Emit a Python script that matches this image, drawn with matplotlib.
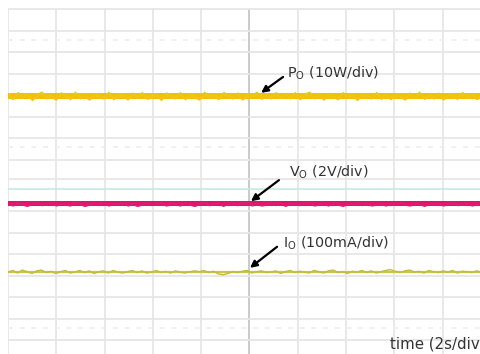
#!/usr/bin/env python3
# -*- coding: utf-8 -*-

import numpy as np
import matplotlib
matplotlib.use("Agg")
import matplotlib.pyplot as plt

plt.rcParams['font.family'] = 'DejaVu Sans'
plt.rcParams['mathtext.fontset'] = 'dejavusans'

# scope screen: 2 s/div horizontally, values in divisions from the bottom line
time_div = [0, 2, 4, 6, 8, 10, 12, 14, 16, 18]
grid_upper = [8.0, 7.5, 7.0, 6.5, 6.0, 5.5, 5.0, 4.5, 4.05]
grid_lower = [3.3, 2.8, 2.3, 1.8, 1.3, 0.8, 0.3]
grid_dotted = [7.28, 4.79, 0.58]
ref_marker = 3.81

# trace levels (div) and the ripple
po_level = 5.98
vo_level = 3.47
io_level = 1.88

po_noise = [0.03, -0.05, 0.06, -0.02, 0.04, -0.07, 0.02, 0.07, -0.03, 0.01,
            -0.06, 0.05, 0.02, -0.05, 0.07, -0.03, 0.01, -0.06, 0.04, 0.00,
            -0.03, 0.07, -0.05, 0.02, 0.03, -0.06, 0.05, -0.02, 0.06, -0.04,
            0.00, 0.03, -0.07, 0.05, 0.01, -0.03, 0.06, -0.05, 0.03, 0.00,
            -0.06, 0.07, -0.02, 0.03, -0.05, 0.06, 0.01, -0.03, 0.05, -0.06,
            0.03, 0.00, 0.07, -0.04, 0.02, -0.03, 0.06, -0.02, 0.04, -0.03,
            0.06, -0.05, 0.02, 0.07, -0.03, 0.03, -0.06, 0.04, 0.00, -0.05,
            0.06, -0.02, 0.03, -0.07, 0.04, 0.01, -0.03, 0.06, -0.04, 0.03,
            -0.05, 0.04, 0.01, -0.06, 0.05, -0.02, 0.07, -0.04, 0.02, -0.03,
            0.05, -0.06, 0.03, 0.00, -0.04, 0.06, -0.02, 0.04, -0.05, 0.02]
vo_noise = [0.01, -0.02, 0.03, 0.00, -0.03, 0.02, 0.03, -0.01, 0.00, 0.03,
            -0.02, 0.01, 0.00, -0.02, 0.03, 0.01, -0.03, 0.00, 0.02, -0.01,
            0.03, -0.02, 0.01, 0.00, 0.03, -0.02, 0.01, -0.03, 0.00, 0.02,
            -0.01, 0.02, 0.03, -0.02, 0.00, 0.01, -0.02, 0.03, 0.00, -0.03,
            0.01, 0.03, -0.01, 0.00, 0.02, -0.03, 0.02, 0.00, -0.01, 0.02,
            0.03, -0.02, 0.01, -0.02, 0.00, 0.03, -0.01, 0.02, -0.03, 0.02,
            0.00, -0.01, 0.02, 0.03, -0.02, 0.00, 0.01, -0.02, 0.03, 0.00,
            -0.03, 0.01, 0.00, 0.03, -0.01, 0.02, -0.02, 0.00, 0.01, -0.02,
            0.02, -0.01, 0.03, 0.00, -0.02, 0.01, 0.02, -0.03, 0.01, 0.00,
            0.02, -0.02, 0.01, 0.03, -0.01, 0.00, 0.02, -0.02, 0.01, -0.01]
io_noise = [0.00, 0.04, -0.02, 0.05, 0.01, -0.03, 0.03, 0.05, -0.01, 0.02,
            -0.03, 0.01, 0.04, -0.02, 0.00, 0.04, -0.01, 0.03, -0.03, 0.01,
            0.03, -0.02, 0.04, 0.00, -0.02, 0.01, 0.04, -0.01, 0.03, -0.02,
            0.00, 0.04, -0.01, 0.02, -0.02, 0.03, 0.00, -0.02, 0.01, 0.03,
            0.01, 0.04, -0.01, 0.02, -0.04, -0.06, -0.03, 0.01, -0.01, 0.02,
            0.04, -0.02, 0.01, 0.03, -0.01, 0.00, 0.03, -0.03, 0.01, 0.04,
            -0.01, 0.02, 0.00, -0.02, 0.04, 0.01, -0.02, 0.03, 0.05, -0.01,
            0.01, -0.03, 0.02, 0.00, 0.04, -0.01, 0.03, -0.02, 0.01, 0.04,
            0.06, 0.02, -0.01, 0.03, 0.05, 0.00, 0.02, -0.02, 0.04, 0.01,
            -0.01, 0.03, 0.00, 0.04, -0.02, 0.02, 0.01, -0.01, 0.03, 0.00]

t = np.linspace(0, 19.6, len(po_noise))

fig = plt.figure(figsize=(4.80, 3.54), dpi=100)
ax = fig.add_axes([8 / 480, 0, 472 / 480, 1])
ax.set_xlim(0, 472 / 24.15)
ax.set_ylim(353 / 43 - 354 / 43, 353 / 43)
ax.axis('off')

# graticule
for x in time_div:
    if x == 10:
        ax.vlines(x, -0.1, 8.0, color='#cacaca', lw=1.4, zorder=1)
    else:
        ax.vlines(x, -0.1, 8.0, color='#e6e6e6', lw=1.3, zorder=1)
for y in grid_upper + grid_lower:
    ax.axhline(y, color='#e6e6e6', lw=1.3, zorder=1)
for y in grid_dotted:
    ax.axhline(y, color='#eeeeee', lw=1.2, ls=(0, (3, 4)), zorder=1)
ax.axhline(ref_marker, color='#c3ebe4', lw=1.2, zorder=1)

# traces: a solid core with a frayed noisy edge
po = po_level + np.array(po_noise)
vo = vo_level + np.array(vo_noise)
io = io_level + np.array(io_noise)
ax.fill_between(t, po_level - 0.075, po_level + 0.075, color='#f2c200', lw=0, zorder=3)
ax.fill_between(t, po - 0.045, po + 0.045, color='#f0c414', lw=0, zorder=3)
ax.fill_between(t, vo_level - 0.055, vo_level + 0.055, color='#e3136c', lw=0, zorder=3)
ax.fill_between(t, vo - 0.035, vo + 0.035, color='#e01a70', lw=0, zorder=3)
ax.plot(t, np.full(len(t), io_level), color='#cbc550', lw=1.6, zorder=4)
ax.plot(t, io, color='#c2bb40', lw=1.0, zorder=4)

# labels with arrows
arrow = dict(arrowstyle='-|>', color='black', lw=1.6, mutation_scale=10,
             shrinkA=0, shrinkB=0)
ax.annotate('', xy=(10.48, 6.05), xytext=(11.39, 6.42), arrowprops=arrow, zorder=5)
ax.annotate('', xy=(10.06, 3.53), xytext=(11.22, 4.02), arrowprops=arrow, zorder=5)
ax.annotate('', xy=(10.02, 1.98), xytext=(11.14, 2.47), arrowprops=arrow, zorder=5)

ax.text(11.55, 6.51, r'P$_\mathrm{O}$ (10W/div)', fontsize=10.3, color='#333333',
        va='center', ha='left')
ax.text(11.62, 4.21, r'V$_\mathrm{O}$ (2V/div)', fontsize=10.3, color='#333333',
        va='center', ha='left')
ax.text(11.38, 2.56, r'I$_\mathrm{O}$ (100mA/div)', fontsize=10.3, color='#333333',
        va='center', ha='left')
ax.text(15.82, 0.21, 'time (2s/div', fontsize=10.8, color='#333333',
        va='center', ha='left')

fig.savefig('out.png', dpi=100)
